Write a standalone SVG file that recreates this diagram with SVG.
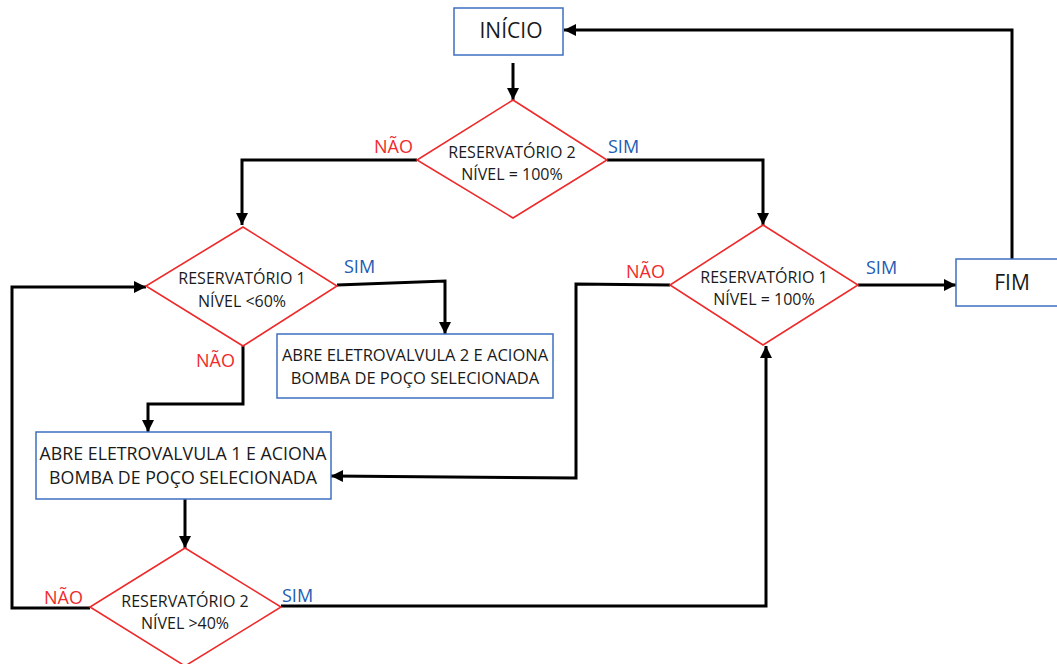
<svg xmlns="http://www.w3.org/2000/svg" width="1057" height="664" viewBox="0 0 1057 664">
<style>
.box{fill:#fff;stroke:#3c6fc0;stroke-width:1.5}
.dia{fill:#fff;stroke:#ee2a2a;stroke-width:1.6}
.t{font-family:"Open Sans","Noto Sans",sans-serif;fill:#1a1a1a;text-anchor:middle}
.no{font-family:"Open Sans","Noto Sans",sans-serif;fill:#f02b2b;font-size:18px}
.yes{font-family:"Open Sans","Noto Sans",sans-serif;fill:#1d5cb4;font-size:18px}
.c{fill:none;stroke:#000;stroke-width:3;marker-end:url(#ah)}
</style>
<defs>
<marker id="ah" markerUnits="userSpaceOnUse" markerWidth="14" markerHeight="14" viewBox="0 0 14 14" refX="13" refY="7" orient="auto">
<path d="M1,1 L13,7 L1,13 Z" fill="#000"/>
</marker>
</defs>
<rect width="1057" height="664" fill="#fff"/>
<g id="connectors">
<polyline class="c" points="513,63 513,100"/>
<polyline class="c" points="417,160 242,160 242,225"/>
<polyline class="c" points="607,160 763,160 763,225"/>
<polyline class="c" points="337,285 445,281 445,334"/>
<polyline class="c" points="243,346 243,404 148,404 148,432"/>
<polyline class="c" points="185,499 185,548"/>
<polyline class="c" points="90,608 12,608 12,287 146,287"/>
<polyline class="c" points="281,606 766,606 766,346"/>
<polyline class="c" points="670,285 576,284 576,478 331,476"/>
<polyline class="c" points="858,285 956,285"/>
<polyline class="c" points="1012,259 1012,30 564,30"/>
</g>
<g id="inicio">
<rect class="box" x="454" y="8" width="109" height="47"/>
<text class="t" x="511" y="38" font-size="21">INÍCIO</text>
</g>
<g id="d1">
<polygon class="dia" points="513,100 607,160 513,218 417,160"/>
<text class="t" x="512" y="158" font-size="16">RESERVATÓRIO 2</text>
<text class="t" x="512" y="180" font-size="16">NÍVEL = 100%</text>
</g>
<g id="d2">
<polygon class="dia" points="243,227 337,286 243,346 146,286"/>
<text class="t" x="242" y="284" font-size="16">RESERVATÓRIO 1</text>
<text class="t" x="242" y="307" font-size="16">NÍVEL &lt;60%</text>
</g>
<g id="d3">
<polygon class="dia" points="763,225 858,285 763,345 670,285"/>
<text class="t" x="764" y="283" font-size="16">RESERVATÓRIO 1</text>
<text class="t" x="764" y="305" font-size="16">NÍVEL = 100%</text>
</g>
<g id="fim">
<rect class="box" x="956" y="259" width="105" height="47"/>
<text class="t" x="1012" y="290" font-size="21">FIM</text>
</g>
<g id="box2">
<rect class="box" x="277" y="334" width="276" height="64"/>
<text class="t" x="415" y="361" font-size="16.5">ABRE ELETROVALVULA 2 E ACIONA</text>
<text class="t" x="415" y="384" font-size="16.5">BOMBA DE POÇO SELECIONADA</text>
</g>
<g id="box1">
<rect class="box" x="36" y="432" width="295" height="67"/>
<text class="t" x="183" y="460" font-size="17.8">ABRE ELETROVALVULA 1 E ACIONA</text>
<text class="t" x="183" y="484" font-size="17.8">BOMBA DE POÇO SELECIONADA</text>
</g>
<g id="d4">
<polygon class="dia" points="185,548 281,607 185,666 90,607"/>
<text class="t" x="185" y="607" font-size="16">RESERVATÓRIO 2</text>
<text class="t" x="185" y="629" font-size="16">NÍVEL &gt;40%</text>
</g>
<g id="labels">
<text class="no" x="374" y="153">NÃO</text>
<text class="yes" x="608" y="153">SIM</text>
<text class="yes" x="344" y="273">SIM</text>
<text class="no" x="196" y="367">NÃO</text>
<text class="no" x="626" y="278">NÃO</text>
<text class="yes" x="866" y="274">SIM</text>
<text class="no" x="44" y="604">NÃO</text>
<text class="yes" x="282" y="602">SIM</text>
</g>
</svg>
